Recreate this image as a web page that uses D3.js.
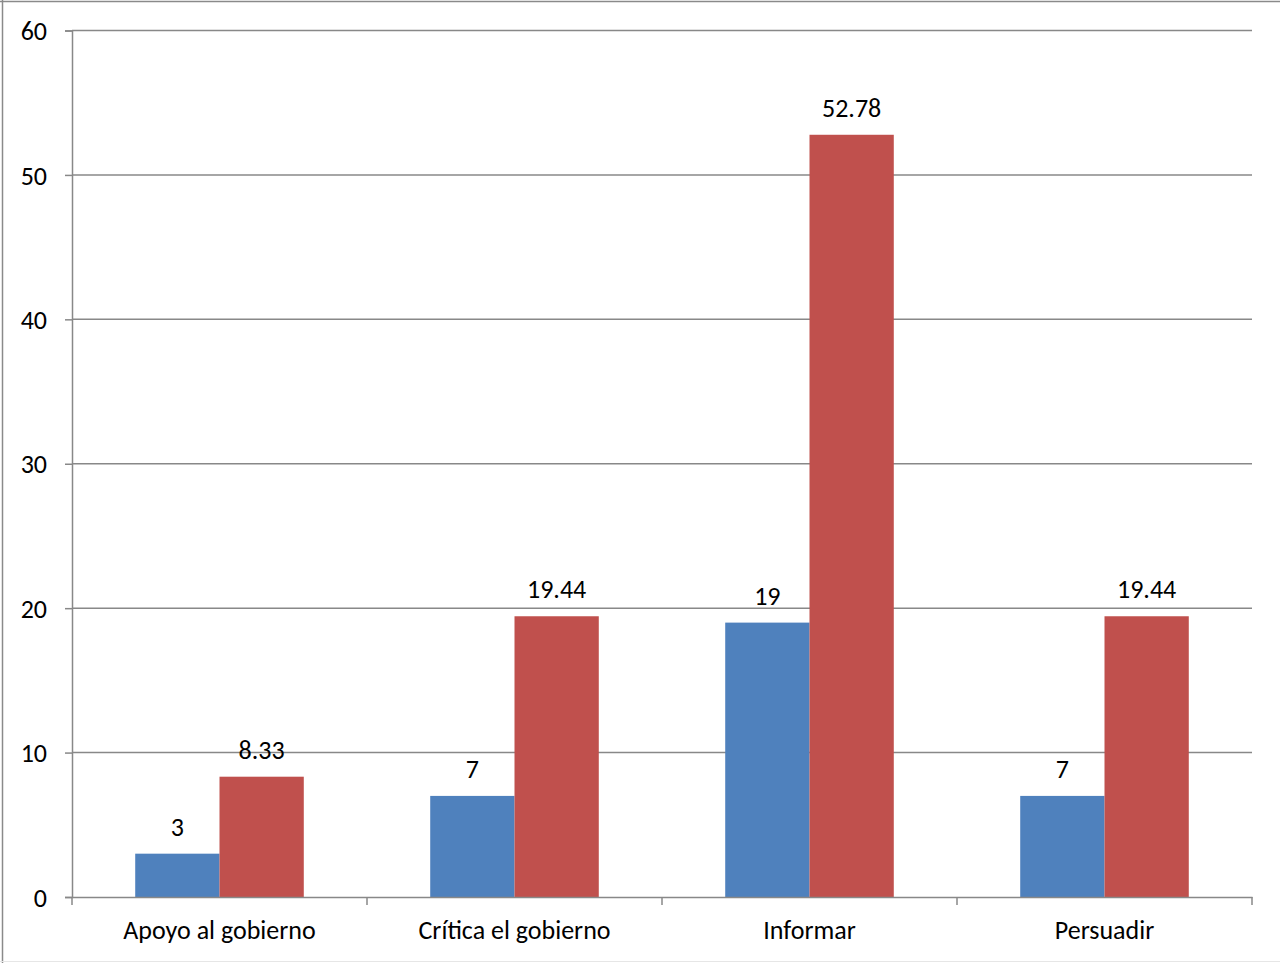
<!DOCTYPE html>
<html><head><meta charset="utf-8">
<script src="https://cdn.jsdelivr.net/npm/d3@7"></script>
<style>html,body{margin:0;padding:0;background:#fff;}svg{display:block;}</style>
</head><body>
<script>
const categories = ["Apoyo al gobierno", "Crítica el gobierno", "Informar", "Persuadir"];
const seriesA = [3, 7, 19, 7];
const seriesB = [8.33, 19.44, 52.78, 19.44];
const labelsA = ["3", "7", "19", "7"];
const labelsB = ["8.33", "19.44", "52.78", "19.44"];
const yTicks = [0, 10, 20, 30, 40, 50, 60];

const W = 1280, H = 963;
const m = {left: 72, right: 1252, top: 30.5, bottom: 897};
const font = "Carlito, Calibri, 'Open Sans', sans-serif";
const fs = 26;

const svg = d3.select("body").append("svg").attr("width", W).attr("height", H);
svg.append("rect").attr("x", 0).attr("y", 0).attr("width", W).attr("height", H).attr("fill", "#fff");
// outer border
svg.append("line").attr("x1", 0).attr("x2", W).attr("y1", 1.5).attr("y2", 1.5).attr("stroke", "#8a8a8a").attr("stroke-width", 1.5);
svg.append("line").attr("x1", 2.5).attr("x2", 2.5).attr("y1", 0).attr("y2", H).attr("stroke", "#8a8a8a").attr("stroke-width", 1.5);
svg.append("line").attr("x1", 0).attr("x2", W).attr("y1", 961.5).attr("y2", 961.5).attr("stroke", "#e6e6e6").attr("stroke-width", 1);

const x = d3.scaleBand().domain(categories).range([m.left, m.right]).paddingInner(0).paddingOuter(0);
const y = d3.scaleLinear().domain([0, 60]).range([m.bottom, m.top]);
const barW = x.bandwidth() / 3.5;

// gridlines
svg.append("g").selectAll("line").data(yTicks.filter(d => d > 0)).join("line")
  .attr("x1", m.left).attr("x2", m.right)
  .attr("y1", d => y(d)).attr("y2", d => y(d))
  .attr("stroke", "#888").attr("stroke-width", 1.5);

// y axis
const yAxis = d3.axisLeft(y).tickValues(yTicks).tickSize(7).tickPadding(18).tickFormat(d3.format("d"));
const gy = svg.append("g").attr("transform", `translate(${m.left},0)`).call(yAxis);
gy.select(".domain").attr("stroke", "#888").attr("stroke-width", 1.5);
gy.selectAll(".tick line").attr("stroke", "#888").attr("stroke-width", 1.5);
gy.selectAll(".tick text").attr("font-family", font).attr("font-size", fs).attr("fill", "#000").attr("dy", "0.35em");

// bars
const g = svg.append("g");
g.selectAll(".a").data(categories).join("rect")
  .attr("x", d => x(d) + x.bandwidth()/2 - barW)
  .attr("y", (d,i) => y(seriesA[i]))
  .attr("width", barW).attr("height", (d,i) => y(0) - y(seriesA[i]))
  .attr("fill", "#4F81BD");
g.selectAll(".b").data(categories).join("rect")
  .attr("x", d => x(d) + x.bandwidth()/2)
  .attr("y", (d,i) => y(seriesB[i]))
  .attr("width", barW).attr("height", (d,i) => y(0) - y(seriesB[i]))
  .attr("fill", "#C0504D");

// x axis
const xAxis = d3.axisBottom(x).tickSize(0).tickPadding(24);
const gx = svg.append("g").attr("transform", `translate(0,${m.bottom})`).call(xAxis);
gx.select(".domain").attr("stroke", "#888").attr("stroke-width", 1.5);
gx.selectAll(".tick text").attr("font-family", font).attr("font-size", fs).attr("fill", "#000");
// category boundary ticks
const bounds = categories.map(c => x(c)).concat([m.right]);
svg.append("g").selectAll("line").data(bounds).join("line")
  .attr("x1", d => d).attr("x2", d => d)
  .attr("y1", m.bottom).attr("y2", m.bottom + 8)
  .attr("stroke", "#888").attr("stroke-width", 1.5);

// value labels
svg.append("g").selectAll("text").data(categories).join("text")
  .attr("x", d => x(d) + x.bandwidth()/2 - barW/2)
  .attr("y", (d,i) => y(seriesA[i]) - 18)
  .attr("text-anchor", "middle").attr("font-family", font).attr("font-size", fs)
  .text((d,i) => labelsA[i]);
svg.append("g").selectAll("text").data(categories).join("text")
  .attr("x", d => x(d) + x.bandwidth()/2 + barW/2)
  .attr("y", (d,i) => y(seriesB[i]) - 18)
  .attr("text-anchor", "middle").attr("font-family", font).attr("font-size", fs)
  .text((d,i) => labelsB[i]);
</script>
</body></html>
